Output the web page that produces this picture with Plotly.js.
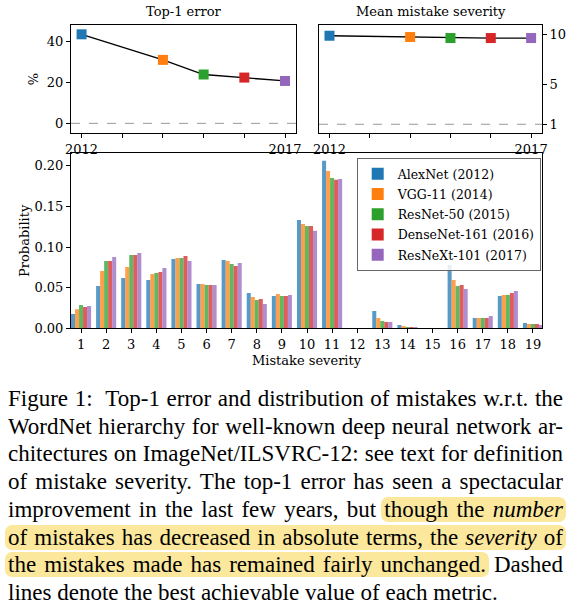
<!DOCTYPE html>
<html>
<head>
<meta charset="utf-8">
<script src="https://cdn.plot.ly/plotly-3.0.1.min.js"></script>
<style>
  html, body { margin: 0; padding: 0; background: #fff; width: 571px; overflow: hidden; }
  #chart { width: 571px; height: 372px; }
  #caption { position: absolute; left: 8px; top: 385px; width: 555px;
    font-family: 'Liberation Serif', 'Times New Roman', Times, serif; font-size: 23px; line-height: 27.7px; color: #000; }
  .ln { white-space: nowrap; text-align: justify; text-align-last: justify; }
  .last { white-space: nowrap; text-align: left; }
  .hl { background: #fce89c; border-radius: 7px; padding: 0 3px; margin: 0 -3px; }
</style>
</head>
<body>
<div id="chart"></div>
<div id="caption">
  <div class="ln">Figure 1:&nbsp; Top-1 error and distribution of mistakes w.r.t. the</div>
  <div class="ln">WordNet hierarchy for well-known deep neural network ar-</div>
  <div class="ln">chitectures on ImageNet/ILSVRC-12: see text for definition</div>
  <div class="ln">of mistake severity. The top-1 error has seen a spectacular</div>
  <div class="ln">improvement in the last few years, but <span class="hl">though the <i>number</i></span></div>
  <div class="ln"><span class="hl">of mistakes has decreased in absolute terms, the <i>severity</i> of</span></div>
  <div class="ln"><span class="hl">the mistakes made has remained fairly unchanged.</span> Dashed</div>
  <div class="last">lines denote the best achievable value of each metric.</div>
</div>
<script>
// ---- data ----
const models = ["AlexNet (2012)", "VGG-11 (2014)", "ResNet-50 (2015)", "DenseNet-161 (2016)", "ResNeXt-101 (2017)"];
const years = [2012, 2014, 2015, 2016, 2017];
const colors = ["#1f77b4", "#ff7f0e", "#2ca02c", "#d62728", "#9467bd"];
const top1Error = [43.45, 30.98, 23.85, 22.35, 20.69];
const meanSeverity = [9.83, 9.70, 9.60, 9.60, 9.60];
const bestTop1 = 0;
const bestSeverity = 1;
const severities = [1,2,3,4,5,6,7,8,9,10,11,12,13,14,15,16,17,18,19];
const probAlexNet   = [0.0177,0.0520,0.0620,0.0595,0.0854,0.0546,0.0842,0.0435,0.0398,0.1335,0.2062,0,0.0214,0.0041,0,0.0780,0.0127,0.0398,0.0066];
const probVGG11     = [0.0234,0.0706,0.0756,0.0669,0.0867,0.0546,0.0830,0.0386,0.0423,0.1285,0.1938,0,0.0127,0.0029,0,0.0595,0.0127,0.0411,0.0053];
const probResNet50  = [0.0287,0.0830,0.0903,0.0682,0.0867,0.0534,0.0793,0.0349,0.0398,0.1261,0.1852,0,0.0090,0.0016,0,0.0520,0.0127,0.0411,0.0053];
const probDenseNet  = [0.0263,0.0830,0.0903,0.0694,0.0891,0.0534,0.0768,0.0361,0.0398,0.1261,0.1828,0,0.0078,0.0016,0,0.0534,0.0127,0.0435,0.0053];
const probResNeXt   = [0.0275,0.0879,0.0928,0.0743,0.0830,0.0534,0.0805,0.0300,0.0411,0.1200,0.1840,0,0.0078,0.0016,0,0.0485,0.0152,0.0460,0.0041];
const probs = [probAlexNet, probVGG11, probResNet50, probDenseNet, probResNeXt];
const yearTicks = [2012, 2013, 2014, 2015, 2016, 2017];
const yearTickText = ["2012", "", "", "", "", "2017"];

// ---- figure ----
const FONT = "'DejaVu Serif', serif";
const traces = [];
traces.push({ x: years, y: top1Error, xaxis: "x", yaxis: "y", type: "scatter", mode: "lines",
  line: { color: "#000", width: 1.3 }, showlegend: false, hoverinfo: "skip" });
traces.push({ x: years, y: top1Error, xaxis: "x", yaxis: "y", type: "scatter", mode: "markers",
  marker: { symbol: "square", size: 10, color: colors }, showlegend: false });
traces.push({ x: years, y: meanSeverity, xaxis: "x2", yaxis: "y2", type: "scatter", mode: "lines",
  line: { color: "#000", width: 1.3 }, showlegend: false, hoverinfo: "skip" });
traces.push({ x: years, y: meanSeverity, xaxis: "x2", yaxis: "y2", type: "scatter", mode: "markers",
  marker: { symbol: "square", size: 10, color: colors }, showlegend: false });
for (let i = 0; i < models.length; i++) {
  traces.push({ x: severities, y: probs[i], xaxis: "x3", yaxis: "y3", type: "bar", name: models[i],
    legendgroup: "g" + i,
    marker: { color: colors[i], opacity: 0.75, line: { width: 0 } } });
}

const axBase = { showline: true, linecolor: "#000", linewidth: 1, mirror: true, ticks: "outside",
  ticklen: 4, tickcolor: "#000", showgrid: false, zeroline: false,
  tickfont: { family: FONT, size: 13, color: "#000" } };

const H = 372, W = 571;
const layout = {
  width: W, height: H, margin: { l: 0, r: 0, t: 0, b: 0 },
  paper_bgcolor: "#fff", plot_bgcolor: "#fff",
  font: { family: FONT, size: 13, color: "#000" },
  barmode: "group", bargap: 0.2, bargroupgap: 0,
  xaxis: Object.assign({}, axBase, { domain: [71/W, 296/W], range: [2011.74, 2017.27],
    tickvals: yearTicks, ticktext: yearTickText, anchor: "y" }),
  yaxis: Object.assign({}, axBase, { domain: [(H-133)/H, (H-25)/H], range: [-4.7, 48],
    tickvals: [0, 20, 40], anchor: "x",
    title: { text: "%", font: { family: FONT, size: 13 }, standoff: 5 } }),
  xaxis2: Object.assign({}, axBase, { domain: [319/W, 542/W], range: [2011.74, 2017.27],
    tickvals: yearTicks, ticktext: yearTickText, anchor: "y2" }),
  yaxis2: Object.assign({}, axBase, { domain: [(H-133)/H, (H-25)/H], range: [0.13, 10.9],
    tickvals: [1, 5, 10], side: "right", anchor: "x2" }),
  xaxis3: Object.assign({}, axBase, { domain: [71/W, 542/W], range: [0.6, 19.36],
    tickvals: severities, anchor: "y3",
    title: { text: "Mistake severity", font: { family: FONT, size: 13 }, standoff: 4 } }),
  yaxis3: Object.assign({}, axBase, { domain: [(H-328.3)/H, (H-153.3)/H], range: [0, 0.2155],
    tickvals: [0, 0.05, 0.10, 0.15, 0.20], tickformat: ".2f", anchor: "x3",
    title: { text: "Probability", font: { family: FONT, size: 13 }, standoff: 1 } }),
  shapes: [
    { type: "line", xref: "x domain", yref: "y", x0: 0, x1: 1, y0: bestTop1, y1: bestTop1,
      line: { color: "#999", width: 1, dash: "dash" }, layer: "below" },
    { type: "line", xref: "x2 domain", yref: "y2", x0: 0, x1: 1, y0: bestSeverity, y1: bestSeverity,
      line: { color: "#999", width: 1, dash: "dash" }, layer: "below" }
  ],
  annotations: [
    { text: "Top-1 error", xref: "paper", yref: "paper", x: (71+296)/2/W, y: (H-12)/H,
      showarrow: false, font: { family: FONT, size: 13 }, xanchor: "center", yanchor: "middle" },
    { text: "Mean mistake severity", xref: "paper", yref: "paper", x: (319+542)/2/W, y: (H-12)/H,
      showarrow: false, font: { family: FONT, size: 13 }, xanchor: "center", yanchor: "middle" }
  ],
  legend: { x: 356.7/W, y: (H-158)/H, xanchor: "left", yanchor: "top",
    bgcolor: "rgba(255,255,255,0.85)", bordercolor: "#666", borderwidth: 1,
    font: { family: FONT, size: 12.5, color: "#000" }, tracegroupgap: 1 },
  showlegend: true
};

Plotly.newPlot("chart", traces, layout, { displayModeBar: false, staticPlot: true });
</script>
</body>
</html>
